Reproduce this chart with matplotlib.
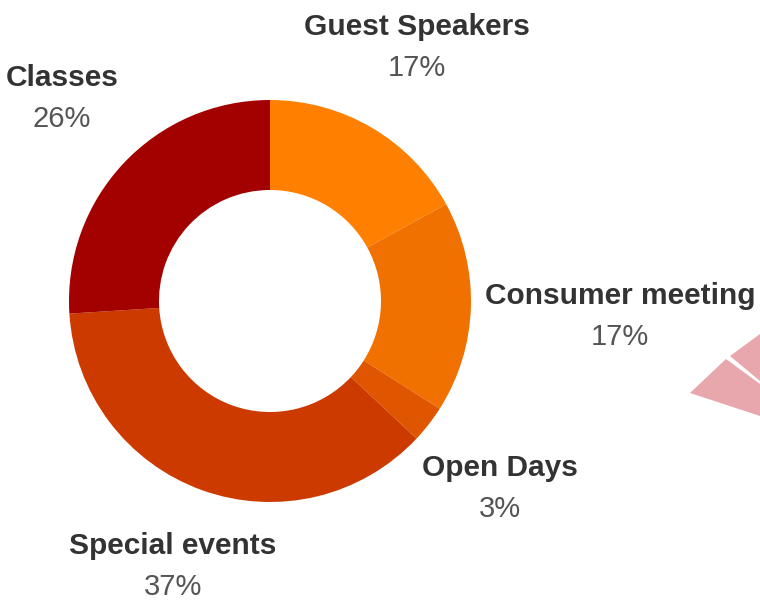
import matplotlib.pyplot as plt
from matplotlib.patches import Polygon

categories = ['Guest Speakers', 'Consumer meeting', 'Open Days', 'Special events', 'Classes']
shares = [17, 17, 3, 37, 26]
colors = ['#FF8000', '#F07000', '#E05500', '#CC3A00', '#A30000']

# label anchor positions in pixel space (x, y from top)
label_pos = [(417, 27), (620, 296), (500, 468), (173, 546), (62, 78)]

W, H = 760, 602

fig = plt.figure(figsize=(W / 100, H / 100), dpi=100)
ax = fig.add_axes([0, 0, 1, 1])

ax.pie(shares, colors=colors, startangle=90, counterclock=False,
       center=(270, H - 301), radius=201,
       wedgeprops=dict(width=90, linewidth=0))

# faded fragment of the next chart sliding in at the right edge
frag_low = [(690, 393), (726, 359), (760, 384), (760, 416)]
frag_up = [(730, 356), (760, 334), (760, 381)]
for pts in (frag_low, frag_up):
    ax.add_patch(Polygon([(x, H - y) for x, y in pts], closed=True,
                         facecolor='#E8A7AC', edgecolor='none'))

for name, val, (x, y) in zip(categories, shares, label_pos):
    ax.text(x, H - y, name, ha='center', va='center', fontsize=21.5,
            fontweight='bold', color='#333333', family='Liberation Sans')
    ax.text(x, H - y - 41, f'{val}%', ha='center', va='center', fontsize=21,
            color='#555555', family='Liberation Sans')

ax.set_xlim(0, W)
ax.set_ylim(0, H)
ax.set_aspect('equal')
ax.axis('off')

fig.savefig('out.png', dpi=100)
